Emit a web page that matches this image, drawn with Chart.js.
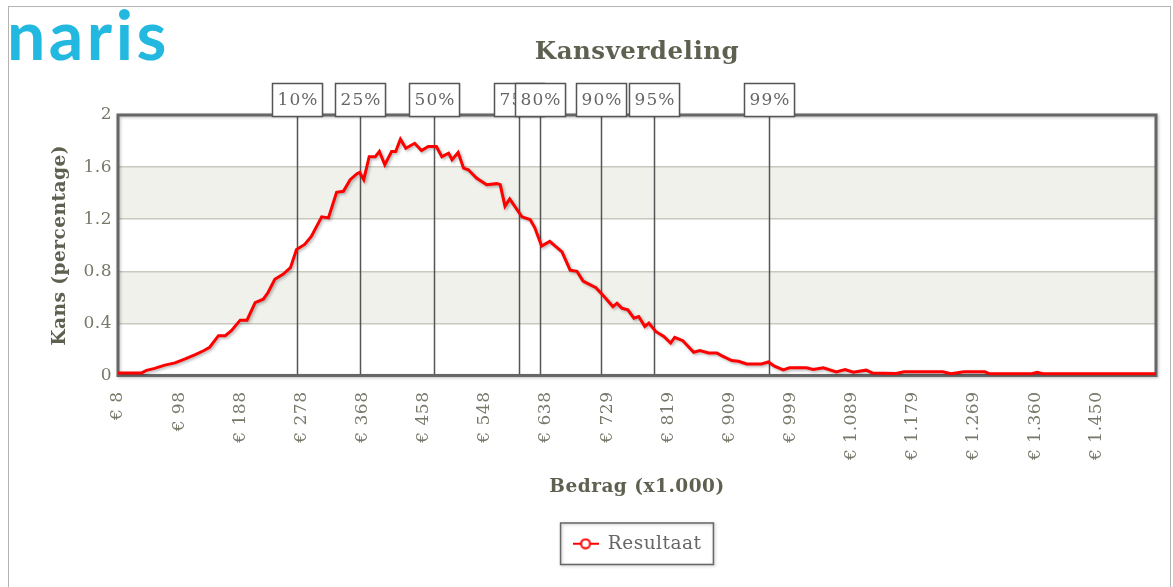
<!DOCTYPE html>
<html>
<head>
<meta charset="utf-8">
<script src="https://cdn.jsdelivr.net/npm/chart.js@4.4.1/dist/chart.umd.min.js"></script>
<style>
  html, body { margin: 0; padding: 0; background: #fff; }
  body { width: 1173px; height: 587px; position: relative; overflow: hidden; }
  #frame { position: absolute; left: 8px; top: 6px; width: 1161px; height: 600px; border: 1px solid #b4b4b4; }
  #logo { position: absolute; left: 7px; top: 0px; font: bold 68px Lato, sans-serif; line-height: 1; color: #22b8e0; letter-spacing: 3.5px; }
  #wrap { position: absolute; left: 0; top: 0; }
</style>
</head>
<body>
<div id="frame"></div>
<div id="logo">naris</div>
<div id="wrap"><canvas id="kansChart" width="1173" height="587"></canvas></div>
<script>
// amounts in x1.000 euro, chance in percent
const amounts = [
  8, 43, 50, 62, 77, 92, 107, 121, 134, 143, 156, 166, 175, 188, 198, 210, 222, 229, 239, 251,
  262, 271, 283, 293, 308, 318, 330, 340, 350, 360, 364, 370, 378, 387, 393, 401, 411, 417, 424, 432,
  445, 455, 465, 477, 485, 495, 500, 509, 517, 524, 536, 551, 566, 571, 578, 585, 603, 615, 622, 632,
  644, 662, 674, 684, 693, 712, 724, 737, 743, 750, 759, 768, 775, 784, 790, 800, 812, 822, 828, 840,
  856, 865, 878, 890, 897, 912, 922, 934, 956, 966, 975, 988, 997, 1022, 1032, 1047, 1066, 1079, 1091, 1110,
  1119, 1154, 1166, 1223, 1235, 1254, 1285, 1292, 1354, 1362, 1370, 1537
];
const chances = [
  0.02, 0.02, 0.04, 0.055, 0.08, 0.097, 0.127, 0.158, 0.19, 0.217, 0.306, 0.306, 0.344, 0.425, 0.425, 0.56, 0.586, 0.637, 0.739, 0.777,
  0.828, 0.968, 1.006, 1.07, 1.218, 1.21, 1.406, 1.414, 1.503, 1.549, 1.559, 1.503, 1.68, 1.68, 1.72, 1.618, 1.72, 1.72, 1.814, 1.745,
  1.783, 1.727, 1.758, 1.758, 1.68, 1.707, 1.656, 1.712, 1.592, 1.58, 1.516, 1.465, 1.473, 1.465, 1.30, 1.355, 1.218, 1.197, 1.134, 0.994,
  1.03, 0.949, 0.809, 0.80, 0.725, 0.674, 0.606, 0.529, 0.555, 0.517, 0.504, 0.44, 0.453, 0.377, 0.402, 0.338, 0.30, 0.249, 0.293, 0.267,
  0.178, 0.191, 0.173, 0.173, 0.153, 0.115, 0.109, 0.089, 0.089, 0.104, 0.071, 0.043, 0.059, 0.059, 0.046, 0.059, 0.028, 0.046, 0.025, 0.041,
  0.02, 0.015, 0.028, 0.028, 0.013, 0.028, 0.028, 0.013, 0.013, 0.025, 0.013, 0.013
];

const xTickValues = [8, 98, 188, 278, 368, 458, 548, 638, 729, 819, 909, 999, 1089, 1179, 1269, 1360, 1450];
const xTickLabels = ['€ 8', '€ 98', '€ 188', '€ 278', '€ 368', '€ 458', '€ 548', '€ 638', '€ 729',
  '€ 819', '€ 909', '€ 999', '€ 1.089', '€ 1.179', '€ 1.269', '€ 1.360', '€ 1.450'];

const percentileLabels = ['10%', '25%', '50%', '75%', '80%', '90%', '95%', '99%'];
const percentileValues = [272, 365, 474, 599, 630, 720, 798, 967];

const serif = 'DejaVu Serif';
const textColor = '#5e6150';

// legend marker: red line with open circle
const marker = document.createElement('canvas');
marker.width = 26; marker.height = 12;
(function () {
  const c = marker.getContext('2d');
  c.strokeStyle = '#ff0000';
  c.lineWidth = 2;
  c.beginPath(); c.moveTo(0, 6); c.lineTo(26, 6); c.stroke();
  c.beginPath(); c.arc(13, 6, 4.5, 0, Math.PI * 2);
  c.fillStyle = '#fff'; c.fill(); c.stroke();
})();

// the reference text runs a little wider than DejaVu Serif
function widenText(chart) { chart.ctx.letterSpacing = '0.5px'; }

const plotDecor = {
  id: 'plotDecor',
  beforeUpdate: widenText,
  beforeLayout: widenText,
  beforeDraw(chart) {
    widenText(chart);
    // alternating bands behind the grid
    const { ctx, chartArea: a, scales: { y } } = chart;
    ctx.save();
    ctx.fillStyle = '#f1f1eb';
    [[0.4, 0.8], [1.2, 1.6]].forEach(([lo, hi]) => {
      const t = y.getPixelForValue(hi), b = y.getPixelForValue(lo);
      ctx.fillRect(a.left, t, a.right - a.left, b - t);
    });
    ctx.restore();
  },
  beforeDatasetsDraw(chart) {
    const { ctx, chartArea: a, scales: { x } } = chart;
    ctx.save();
    // percentile lines
    ctx.strokeStyle = '#555';
    ctx.lineWidth = 1.5;
    percentileValues.forEach(v => {
      const px = Math.round(x.getPixelForValue(v)) + 0.5;
      ctx.beginPath(); ctx.moveTo(px, a.top); ctx.lineTo(px, a.bottom); ctx.stroke();
    });
    // plot frame
    ctx.shadowColor = 'rgba(0,0,0,0.25)';
    ctx.shadowBlur = 3;
    ctx.shadowOffsetX = 1;
    ctx.shadowOffsetY = 1;
    ctx.strokeStyle = '#666';
    ctx.lineWidth = 3;
    ctx.strokeRect(a.left, a.top, a.right - a.left, a.bottom - a.top);
    ctx.restore();
  },
  beforeDatasetDraw(chart) {
    const ctx = chart.ctx;
    ctx.save();
    ctx.shadowColor = 'rgba(0,0,0,0.3)';
    ctx.shadowBlur = 3;
    ctx.shadowOffsetX = 1.5;
    ctx.shadowOffsetY = 1.5;
  },
  afterDatasetDraw(chart) {
    chart.ctx.restore();
  },
  afterDraw(chart) {
    const { ctx, chartArea: a, scales: { x } } = chart;
    ctx.save();
    // percentile label boxes
    ctx.font = '17px "' + serif + '"';
    ctx.letterSpacing = '1px';
    ctx.textAlign = 'center';
    ctx.textBaseline = 'middle';
    percentileValues.forEach((v, i) => {
      const px = Math.round(x.getPixelForValue(v));
      const w = 50, top = a.top - 32, h = 33;
      ctx.shadowColor = 'rgba(0,0,0,0.2)';
      ctx.shadowBlur = 2;
      ctx.shadowOffsetX = 1;
      ctx.shadowOffsetY = 1;
      ctx.fillStyle = '#fff';
      ctx.fillRect(px - w / 2, top, w, h);
      ctx.shadowColor = 'transparent';
      ctx.strokeStyle = '#555';
      ctx.lineWidth = 1.5;
      ctx.strokeRect(px - w / 2 + 0.5, top + 0.5, w, h);
      ctx.fillStyle = '#666';
      ctx.fillText(percentileLabels[i], px + 1, top + h / 2 + 1);
    });
    // legend box
    const hb = chart.legend.legendHitBoxes[0];
    if (hb) {
      ctx.shadowColor = 'rgba(0,0,0,0.25)';
      ctx.shadowBlur = 3;
      ctx.shadowOffsetX = 1;
      ctx.shadowOffsetY = 1;
      ctx.strokeStyle = '#666';
      ctx.lineWidth = 1.5;
      ctx.strokeRect(hb.left - 12, hb.top - 11.5, hb.width + 24, hb.height + 23);
    }
    ctx.restore();
  }
};

new Chart(document.getElementById('kansChart'), {
  type: 'line',
  data: {
    datasets: [{
      label: 'Resultaat',
      data: amounts.map((a, i) => ({ x: a, y: chances[i] })),
      borderColor: '#ff0000',
      backgroundColor: '#fff',
      borderWidth: 3,
      pointRadius: 0,
      pointStyle: marker,
      tension: 0,
      fill: false
    }]
  },
  options: {
    responsive: false,
    devicePixelRatio: 1,
    animation: false,
    layout: { padding: { left: 0, right: 17, top: 0, bottom: 24 } },
    plugins: {
      title: {
        display: true,
        fullSize: false,
        text: 'Kansverdeling',
        color: textColor,
        font: { family: serif, size: 24.5, weight: 'bold' },
        padding: { top: 38, bottom: 47.6 }
      },
      legend: {
        position: 'bottom',
        fullSize: false,
        labels: {
          usePointStyle: true,
          pointStyleWidth: 26,
          color: '#666',
          font: { family: serif, size: 18.5 },
          padding: 9
        }
      },
      tooltip: { enabled: false }
    },
    scales: {
      x: {
        type: 'linear',
        min: 8,
        max: 1537,
        afterBuildTicks: s => { s.ticks = xTickValues.map(v => ({ value: v })); },
        afterFit: s => { s.height = 150; },
        grid: { display: false },
        border: { display: false },
        ticks: {
          autoSkip: false,
          minRotation: 90,
          maxRotation: 90,
          padding: 8,
          color: '#77786a',
          font: { family: serif, size: 17 },
          callback: (v, i) => xTickLabels[i]
        },
        title: {
          display: true,
          text: 'Bedrag (x1.000)',
          color: textColor,
          font: { family: serif, size: 18.5, weight: 'bold' },
          padding: { top: 4, bottom: 27 }
        }
      },
      y: {
        min: 0,
        max: 2,
        afterFit: s => { s.width = 118; },
        grid: { color: '#c9c9c0', lineWidth: 1.5, drawTicks: false },
        border: { display: false },
        ticks: {
          stepSize: 0.4,
          padding: 6,
          color: '#77786a',
          font: { family: serif, size: 17 },
          callback: v => String(+v.toFixed(1))
        },
        title: {
          display: true,
          text: 'Kans (percentage)',
          color: textColor,
          font: { family: serif, size: 18.5, weight: 'bold' },
          padding: { top: 49, bottom: 0 }
        }
      }
    }
  },
  plugins: [plotDecor]
});
</script>
</body>
</html>
